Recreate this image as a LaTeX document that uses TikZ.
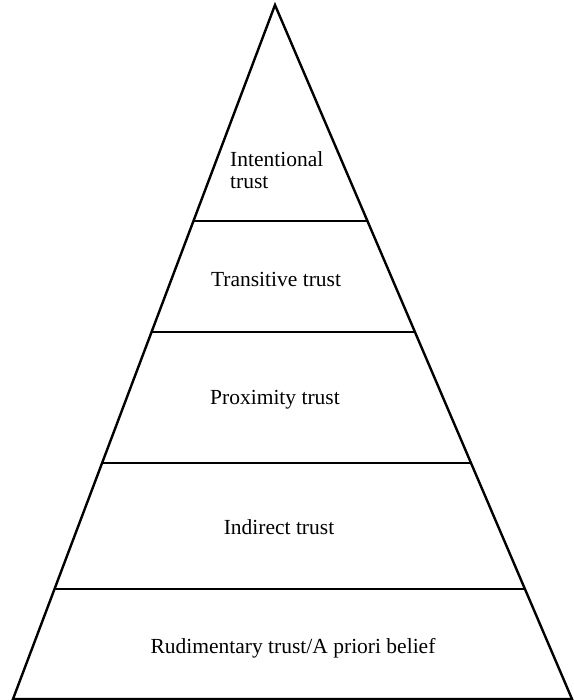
\documentclass[tikz,border=0pt]{standalone}
\usepackage{fontspec}
\setmainfont{Liberation Serif}
\usetikzlibrary{calc}
\begin{document}
\begin{tikzpicture}[x=1pt,y=-1pt,
  edge/.style={line width=2.4pt,line join=miter},
  level/.style={line width=2pt},
  lbl/.style={font=\fontsize{21.5}{22}\selectfont,inner sep=0pt}]
\useasboundingbox (0,0) rectangle (573,700);
\coordinate (apex) at (275,5);
\coordinate (bl) at (13,699);
\coordinate (br) at (572,699);
\draw[edge] (bl) -- (apex) -- (br) -- cycle;
% dividing levels
\foreach \n/\t in {l1/0.3108,l2/0.4707,l3/0.6599,l4/0.8415}{
  \coordinate (\n a) at ($(apex)!\t!(bl)$);
  \coordinate (\n b) at ($(apex)!\t!(br)$);
  \draw[level] (\n a) -- (\n b);
}
\node[lbl,anchor=base west,align=left] (intentional) at (230,189) {Intentional\\trust};
\node[lbl,anchor=base] (transitive) at (276,286) {Transitive trust};
\node[lbl,anchor=base] (proximity) at (275,404) {Proximity trust};
\node[lbl,anchor=base] (indirect) at (279,534) {Indirect trust};
\node[lbl,anchor=base] (rudimentary) at (293,653) {Rudimentary trust/A priori belief};
\end{tikzpicture}
\end{document}
